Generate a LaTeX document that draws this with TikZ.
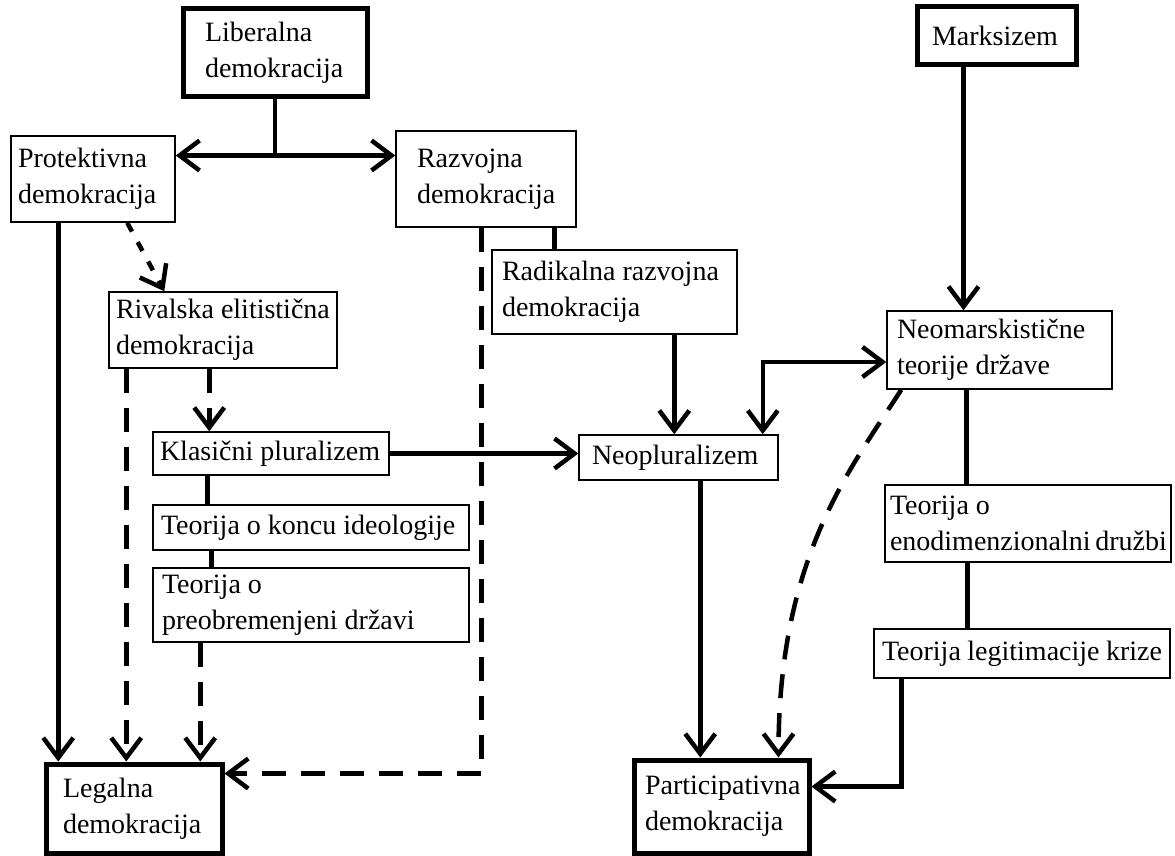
\documentclass[tikz,border=0pt]{standalone}
\usepackage{fontspec}
\setmainfont{Liberation Serif}
\usetikzlibrary{arrows.meta}

\begin{document}
\begin{tikzpicture}[x=1pt,y=-1pt,
		>={Straight Barb[length=20pt,width=30pt]},
		box/.style n args={3}{draw, line width=1.5pt, align=flush left,
			font=\fontsize{28}{36}\selectfont,
			execute at begin node={\spaceskip=0pt \xspaceskip=0pt \hyphenpenalty=10000 },
			text width=#1, inner xsep=#2, inner ysep=0pt, minimum height=#3},
		thickbox/.style={line width=5pt},
		link/.style={line width=4.5pt},
		broken/.style={dash pattern=on 24pt off 15pt},
		shortbroken/.style={dash pattern=on 10pt off 12pt}]
	\useasboundingbox (0,0) rectangle (1175,856);
	% boxes
	\node[box={140pt}{22pt}{88pt}, thickbox] (lib) at (275,53) {Liberalna\\demokracija};
	\node[box={150pt}{7pt}{86pt}] (prot) at (93,179) {Protektivna\\demokracija};
	\node[box={138pt}{21pt}{96pt}] (razv) at (486,179) {Razvojna\\demokracija};
	\node[box={225pt}{10pt}{84pt}] (rad) at (614.5,292) {Radikalna~razvojna\\demokracija};
	\node[box={214pt}{7pt}{76pt}] (riv) at (223,330) {Rivalska~elitistična\\demokracija};
	\node[box={222pt}{7pt}{43pt}] (klas) at (271,453.5) {Klasični~pluralizem};
	\node[box={300pt}{8pt}{45pt}] (konc) at (311,527.5) {Teorija~o~koncu~ideologije};
	\node[box={298pt}{9pt}{74pt}] (preo) at (311,605) {Teorija o\\preobremenjeni~državi};
	\node[box={173pt}{13pt}{45pt}] (neopl) at (678.5,457.5) {Neopluralizem};
	\node[box={129pt}{15pt}{58pt}, thickbox] (marks) at (996.5,36) {Marksizem};
	\node[box={205pt}{10pt}{78pt}] (neom) at (999.5,350) {Neomarskistične\\teorije~države};
	\node[box={276pt}{5pt}{77pt}] (enod) at (1028,523.5) {Teorija o\\enodimenzionalni~družbi};
	\node[box={280pt}{8pt}{49pt}] (legit) at (1022,653.5) {Teorija~legitimacije~krize};
	\node[box={142pt}{17pt}{89pt}, thickbox] (leg) at (134,808.5) {Legalna\\demokracija};
	\node[box={153pt}{11pt}{93pt}, thickbox] (part) at (721.5,806.5) {Participativna\\demokracija};

	% liberal branch
	\coordinate (split) at ([yshift=-56pt]lib.south);
	\draw[link] (lib.south) -- (split);
	\draw[link,<->] (prot.east |- split) -- (razv.west |- split);
	\draw[link,->,shortbroken] ([xshift=117pt]prot.south west) -- ([xshift=56pt]riv.north west);
	\path[link,->]
	([xshift=48pt]prot.south west) edge ([xshift=48pt]prot.south west |- leg.north)
	([xshift=183pt]rad.south west) edge ([xshift=183pt]rad.south west |- neopl.north)
	([xshift=122pt]neopl.south west) edge ([xshift=122pt]neopl.south west |- part.north)
	([xshift=49pt]marks.south west) edge ([xshift=49pt]marks.south west |- neom.north)
	(klas.east) edge (klas.east -| neopl.west);
	\path[link]
	([xshift=159pt]razv.south west) edge ([xshift=159pt]razv.south west |- rad.north)
	([xshift=55pt]klas.south west) edge ([xshift=55pt]klas.south west |- konc.north)
	([xshift=59pt]konc.south west) edge ([xshift=59pt]konc.south west |- preo.north)
	([xshift=80pt]neom.south west) edge ([xshift=80pt]neom.south west |- enod.north)
	([xshift=83pt]enod.south west) edge ([xshift=83pt]enod.south west |- legit.north);
	\path[link,->,broken]
	([xshift=18pt]riv.south west) edge ([xshift=18pt]riv.south west |- leg.north)
	([xshift=101pt]riv.south west) edge ([xshift=101pt]riv.south west |- klas.north)
	([xshift=48pt]preo.south west) edge ([xshift=48pt]preo.south west |- leg.north);
	\draw[link,->,broken] ([xshift=86pt]razv.south west) |- ([yshift=-12pt]leg.north east);

	% marxist branch
	\draw[link,<->] ([yshift=-12pt]neom.west) -| ([xshift=-16pt]neopl.north east);
	\draw[link,->] ([xshift=28pt]legit.south west) |- ([yshift=-29pt]part.north east);
	\draw[link,->,broken] ([xshift=15pt]neom.south west) .. controls +(-52,81) and +(0,-200) .. ([xshift=147pt]part.north west);
\end{tikzpicture}
\end{document}
